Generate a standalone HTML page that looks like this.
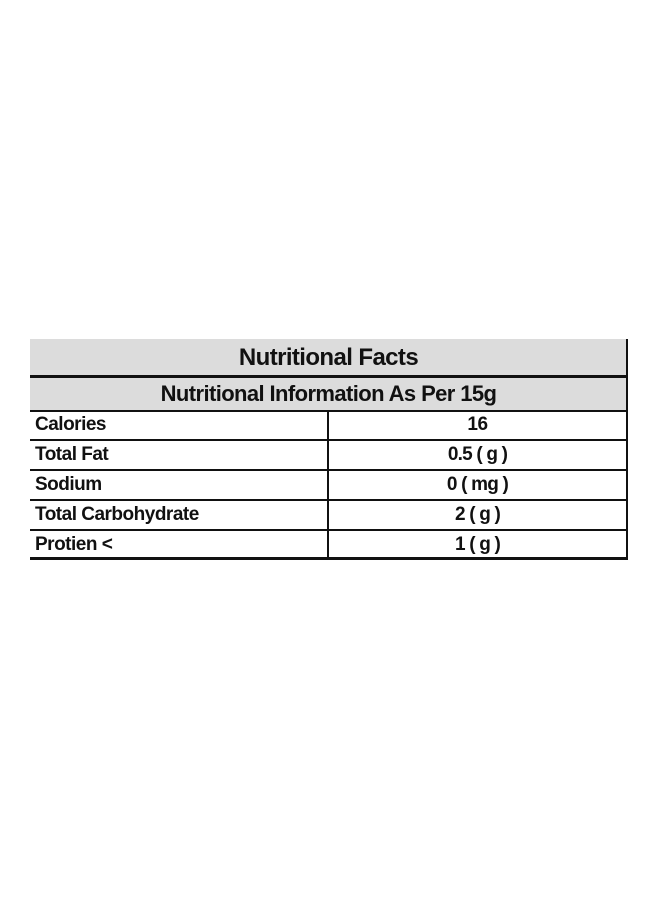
<!DOCTYPE html>
<html><head><style>
body{margin:0;width:660px;height:900px;background:#fff;position:relative;font-family:"Liberation Sans",sans-serif;font-weight:bold;color:#111;}
.a{position:absolute;}
.h{background:#dcdcdc;left:30px;width:597px;}
.l{background:#111;}
.t{position:absolute;white-space:nowrap;}
</style></head><body>
<div class="a h" style="top:339px;height:38px"></div>
<div class="a h" style="top:377px;height:34px"></div>
<div class="a l" style="left:626px;top:339px;width:2px;height:221px"></div>
<div class="a l" style="left:30px;top:375px;width:598px;height:3px"></div>
<div class="a l" style="left:30px;top:410px;width:598px;height:2px"></div>
<div class="a l" style="left:30px;top:439px;width:598px;height:2px"></div>
<div class="a l" style="left:30px;top:469px;width:598px;height:2px"></div>
<div class="a l" style="left:30px;top:499px;width:598px;height:2px"></div>
<div class="a l" style="left:30px;top:529px;width:598px;height:2px"></div>
<div class="a l" style="left:30px;top:557px;width:598px;height:3px"></div>
<div class="a l" style="left:327px;top:411px;width:2px;height:148px"></div>
<div class="t" style="left:30px;width:597px;text-align:center;top:344px;font-size:24px;letter-spacing:-0.6px">Nutritional Facts</div>
<div class="t" style="left:30px;width:597px;text-align:center;top:381px;font-size:22px;letter-spacing:-0.6px">Nutritional Information As Per 15g</div>
<div class="t" style="left:35px;top:414px;font-size:19px;letter-spacing:-0.5px">Calories</div>
<div class="t" style="left:35px;top:444px;font-size:19px;letter-spacing:-0.5px">Total Fat</div>
<div class="t" style="left:35px;top:474px;font-size:19px;letter-spacing:-0.5px">Sodium</div>
<div class="t" style="left:35px;top:504px;font-size:19px;letter-spacing:-0.5px">Total Carbohydrate</div>
<div class="t" style="left:35px;top:534px;font-size:19px;letter-spacing:-0.5px">Protien &lt;</div>
<div class="t" style="left:329px;width:297px;text-align:center;top:414px;font-size:19px;letter-spacing:-0.5px">16</div>
<div class="t" style="left:329px;width:297px;text-align:center;top:444px;font-size:19px;letter-spacing:-0.8px">0.5 ( g )</div>
<div class="t" style="left:329px;width:297px;text-align:center;top:474px;font-size:19px;letter-spacing:-0.8px">0 ( mg )</div>
<div class="t" style="left:329px;width:297px;text-align:center;top:504px;font-size:19px;letter-spacing:-0.8px">2 ( g )</div>
<div class="t" style="left:329px;width:297px;text-align:center;top:534px;font-size:19px;letter-spacing:-0.8px">1 ( g )</div>
</body></html>
